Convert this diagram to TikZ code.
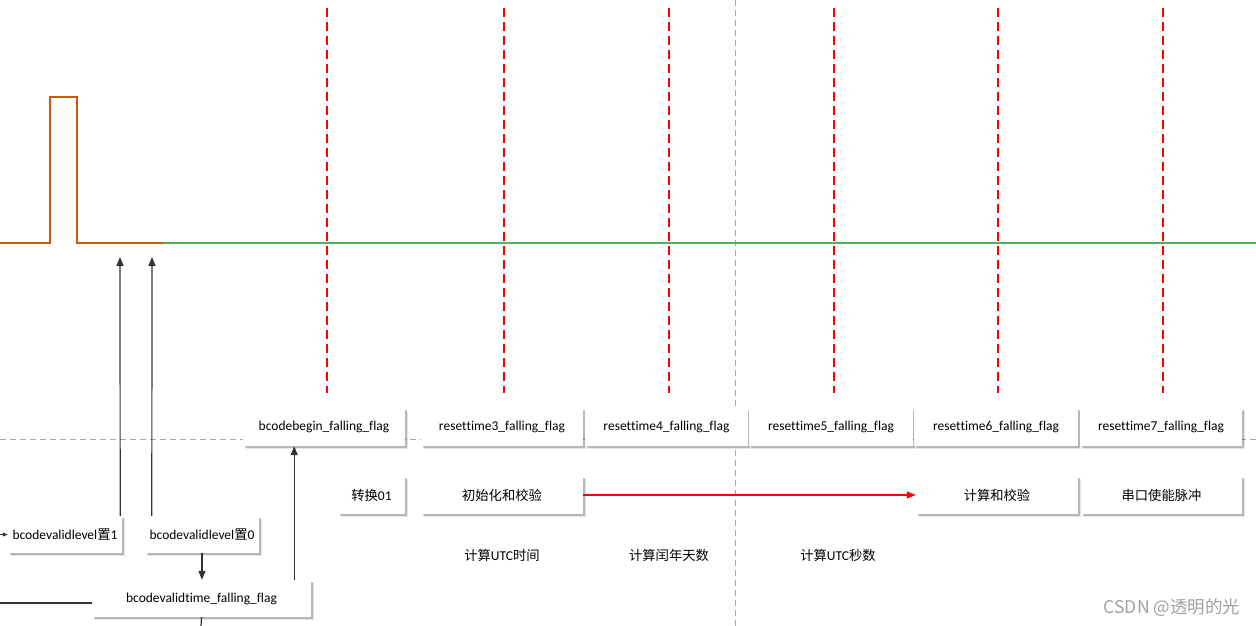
\documentclass[tikz,border=0pt]{standalone}
\usepackage{fontspec}
\setmainfont{Carlito}[Ligatures=NoCommon]
\newfontfamily\cjk{Noto Sans CJK SC}
\usetikzlibrary{shadows,arrows.meta}
\definecolor{wave}{RGB}{197,90,17}
\definecolor{okgreen}{RGB}{80,180,90}
\definecolor{guide}{RGB}{170,170,170}
\definecolor{wmgray}{RGB}{160,160,160}
\newcommand{\zh}[1]{{\cjk\fontsize{13.3}{15}\selectfont #1}}
\tikzset{
  box/.style={fill=white, inner sep=0pt, minimum height=38pt,
    drop shadow={shadow xshift=3pt, shadow yshift=-3pt, fill=black, opacity=0.10},
    drop shadow={shadow xshift=1.8pt, shadow yshift=-1.8pt, fill=black, opacity=0.20},
    font=\fontsize{13.5}{16}\selectfont},
  plain/.style={inner sep=0pt, font=\fontsize{13.5}{16}\selectfont},
  reddash/.style={red, line width=1.1pt, dash pattern=on 9pt off 5pt},
  greydash/.style={guide, line width=1pt, dash pattern=on 6pt off 4pt},
  arr/.style={black!80, line width=1.2pt, -{Triangle[length=9pt,width=7pt]}},
  redarr/.style={red, line width=1.2pt, -{Triangle[length=9pt,width=7pt]}}
}
\begin{document}
\begin{tikzpicture}[x=1pt,y=-1pt]
\useasboundingbox (0,0) rectangle (1256,626);
% guide lines
\draw[greydash] (0,439) -- (1256,439);
\draw[greydash] (735,0) -- (735,626);
% red dashed markers
\foreach \x in {327,504,669,834,998,1163}
  \draw[reddash] (\x,8) -- (\x,393);
% waveform
\draw[wave, line width=1.3pt] (0,243) -- (50,243) -- (50,97) -- (77,97) -- (77,243) -- (164,243);
\draw[okgreen, line width=1.3pt] (164,243) -- (1256,243);
% boxes row 1
\node[box, minimum width=162pt] (bb) at (324,427) {bcodebegin\_falling\_flag};
\node[box, minimum width=162pt] (r3) at (502,427) {resettime3\_falling\_flag};
\node[box, minimum width=163pt] (r4) at (666.5,427) {resettime4\_falling\_flag};
\node[box, minimum width=164pt] (r5) at (831,427) {resettime5\_falling\_flag};
\node[box, minimum width=164pt] (r6) at (996,427) {resettime6\_falling\_flag};
\node[box, minimum width=162pt] (r7) at (1161,427) {resettime7\_falling\_flag};
% boxes row 2
\node[box, minimum width=67pt] (zh01) at (371.5,495) {\zh{转换}01};
\node[box, minimum width=162pt] (init) at (502,495) {\zh{初始化和校验}};
\node[box, minimum width=162pt] (calc) at (997,495) {\zh{计算和校验}};
\node[box, minimum width=161pt] (uart) at (1161.5,495) {\zh{串口使能脉冲}};
% plain labels
\node[plain] (utc) at (502,555) {\zh{计算}UTC\zh{时间}};
\node[plain] (leap) at (669,555) {\zh{计算闰年天数}};
\node[plain] (sec) at (838,555) {\zh{计算}UTC\zh{秒数}};
% left boxes
\node[box, minimum width=114pt, minimum height=37pt] (l1) at (65,534.5) {bcodevalidlevel\zh{置}1};
\node[box, minimum width=114pt, minimum height=37pt] (l0) at (202,534.5) {bcodevalidlevel\zh{置}0};
\node[box, minimum width=219pt, minimum height=37pt] (vt) at (201.5,598.5) {bcodevalidtime\_falling\_flag};
% coordinates
\coordinate (t1) at (120,257);
\coordinate (t2) at (152,257);
\coordinate (lin) at (0,534.5);
\coordinate (vl) at (0,603);
\coordinate (vb) at (201,626);
% connectors
\draw[arr] ([xshift=-2pt]l1.north east) -- (t1);
\draw[arr] ([xshift=7pt]l0.north west) -- (t2);
\draw[arr] (l0.south) -- (l0.south |- vt.north);
\draw[arr] ([xshift=-17pt]vt.north east) -- ([xshift=-17pt]vt.north east |- bb.south);
\draw[black!80, line width=1.2pt] (vt.south) -- (vb);
\draw[black!80, line width=1.2pt] (vl) -- (vl -| vt.west);
\draw[black!80, line width=1pt, -{Triangle[length=5pt,width=4pt]}] (lin) -- (l1.west);
\draw[redarr] (init.east) -- (calc.west);
% watermark
\node[inner sep=0pt, text=wmgray, font=\cjk\fontsize{17.5}{20}\selectfont] (wm) at (1172,608) {CSDN @透明的光};
\end{tikzpicture}
\end{document}
